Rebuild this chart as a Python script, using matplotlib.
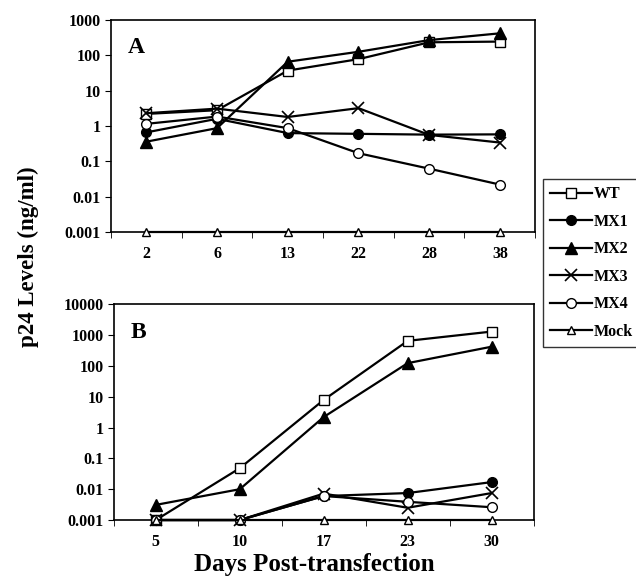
import numpy as np
import matplotlib.pyplot as plt

plt.rcParams['font.family'] = ['Liberation Serif', 'DejaVu Serif']
plt.rcParams['font.weight'] = 'bold'

# Panel A data
days_a = ['2', '6', '13', '22', '28', '38']
wt_a = [2.2, 2.8, 37, 78, 234, 245]
mx1_a = [0.66, 1.6, 0.63, 0.6, 0.57, 0.58]
mx2_a = [0.36, 0.87, 66, 126, 270, 420]
mx3_a = [2.3, 3.1, 1.8, 3.2, 0.56, 0.34]
mx4_a = [1.15, 1.85, 0.87, 0.17, 0.062, 0.022]
mock_a = [0.001, 0.001, 0.001, 0.001, 0.001, 0.001]

# Panel B data
days_b = ['5', '10', '17', '23', '30']
wt_b = [0.001, 0.048, 7.9, 650, 1300]
mx1_b = [0.001, 0.001, 0.006, 0.0075, 0.017]
mx2_b = [0.0031, 0.01, 2.2, 123, 420]
mx3_b = [0.001, 0.001, 0.0072, 0.0025, 0.0075]
mx4_b = [0.001, 0.001, 0.006, 0.0039, 0.0026]
mock_b = [0.001, 0.001, 0.001, 0.001, 0.001]

labels = ['WT', 'MX1', 'MX2', 'MX3', 'MX4', 'Mock']
styles = [
    dict(marker='s', mfc='white', ms=6.5),
    dict(marker='o', mfc='black', ms=7),
    dict(marker='^', mfc='black', ms=8),
    dict(marker='x', mfc='none', ms=9, mew=1.2),
    dict(marker='o', mfc='white', ms=7),
    dict(marker='^', mfc='white', ms=6),
]

fig = plt.figure(figsize=(6.36, 5.8), dpi=100)
ax_a = fig.add_axes([0.1745, 0.6, 0.667, 0.3655])
ax_b = fig.add_axes([0.179, 0.1034, 0.660, 0.372])


def draw(ax, days, series, yticks, ylabels, letter):
    x = np.arange(len(days))
    handles = []
    for vals, st, lab in zip(series, styles, labels):
        h, = ax.plot(x, vals, color='black', lw=1.6, mec='black', label=lab,
                     clip_on=False, zorder=3, **st)
        handles.append(h)
    ax.set_yscale('log')
    ax.set_ylim(yticks[0], yticks[-1])
    ax.set_xlim(-0.5, len(days) - 0.5)
    ax.set_yticks(yticks)
    ax.set_yticklabels(ylabels)
    ax.yaxis.set_minor_locator(plt.NullLocator())
    ax.set_xticks(x)
    ax.set_xticklabels(days)
    ax.set_xticks(np.arange(len(days) + 1) - 0.5, minor=True)
    ax.tick_params(axis='x', which='major', length=0, pad=10, labelsize=11.5)
    ax.tick_params(axis='x', which='minor', length=4, direction='out')
    ax.tick_params(axis='y', which='major', length=4, direction='out',
                   labelsize=11.5)
    for lbl in ax.get_xticklabels() + ax.get_yticklabels():
        lbl.set_fontweight('bold')
    for sp in ax.spines.values():
        sp.set_linewidth(1.2)
    ax.text(0.04, 0.92, letter, transform=ax.transAxes, fontsize=17,
            fontweight='bold', va='top', ha='left')
    return handles


draw(ax_a, days_a, [wt_a, mx1_a, mx2_a, mx3_a, mx4_a, mock_a],
     [0.001, 0.01, 0.1, 1, 10, 100, 1000],
     ['0.001', '0.01', '0.1', '1', '10', '100', '1000'], 'A')
handles = draw(ax_b, days_b, [wt_b, mx1_b, mx2_b, mx3_b, mx4_b, mock_b],
               [0.001, 0.01, 0.1, 1, 10, 100, 1000, 10000],
               ['0.001', '0.01', '0.1', '1', '10', '100', '1000', '10000'], 'B')

leg = fig.legend(handles=handles, loc='upper left',
                 bbox_to_anchor=(543 / 636, 1 - 179 / 580),
                 frameon=True, fancybox=False, edgecolor='black',
                 prop={'weight': 'bold', 'size': 11.5}, handlelength=2.6,
                 handletextpad=0.1, labelspacing=0.72, borderpad=0.45,
                 borderaxespad=0)
leg.get_frame().set_linewidth(1.0)

fig.text(0.045, 0.557, 'p24 Levels (ng/ml)', rotation=90, fontsize=16.5,
         fontweight='bold', ha='center', va='center')
fig.text(0.494, 0.026, 'Days Post-transfection', fontsize=18,
         fontweight='bold', ha='center', va='center')

fig.savefig('out.png', dpi=100, facecolor='white')
